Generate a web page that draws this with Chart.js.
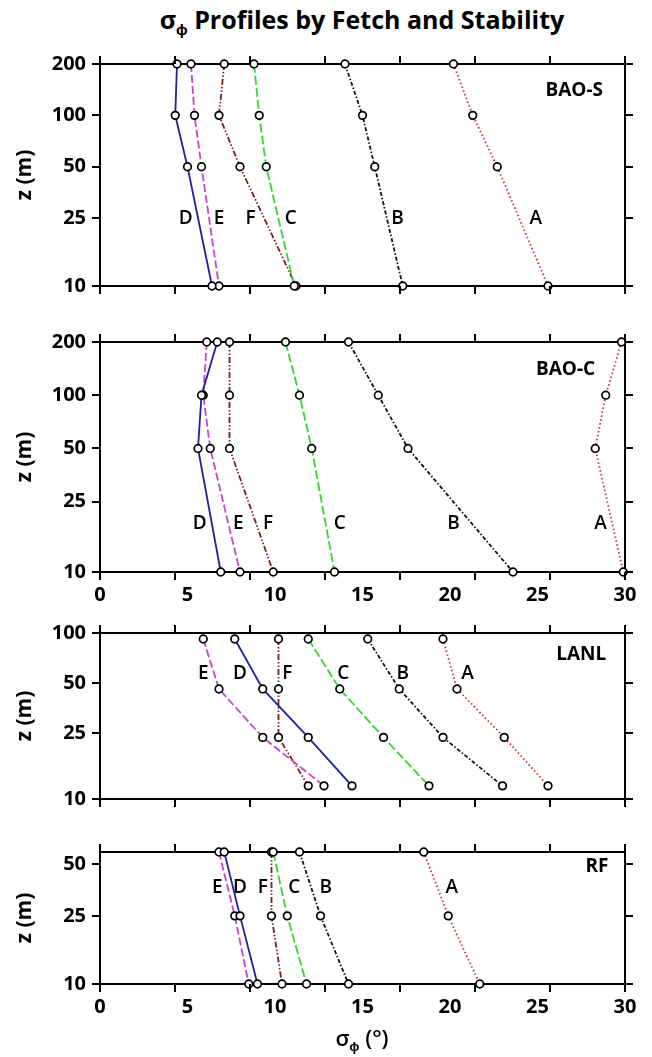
<!DOCTYPE html>
<html>
<head>
<meta charset="utf-8">
<script src="https://cdn.jsdelivr.net/npm/chart.js@4.4.0/dist/chart.umd.min.js"></script>
<style>
  body { margin: 0; background: #fff; }
  #wrap { position: relative; width: 652px; height: 1057px; font-family: 'Open Sans', sans-serif; color: #000; }
  #title { position: absolute; left: 112px; width: 500px; top: 5px; text-align: center; font-weight: bold; font-size: 25px; line-height: 28px; }
  #xtitle { position: absolute; left: 312px; width: 100px; top: 1024px; text-align: center; font-weight: 600; font-size: 22px; line-height: 26px; }
  sub { font-size: 62%; }
  canvas { position: absolute; left: 0; }
</style>
</head>
<body>
<div id="wrap">
  <div id="title">σ<sub>ϕ</sub> Profiles by Fetch and Stability</div>
  <canvas id="p1"></canvas>
  <canvas id="p2"></canvas>
  <canvas id="p3"></canvas>
  <canvas id="p4"></canvas>
  <div id="xtitle">σ<sub>ϕ</sub> (°)</div>
</div>
<script>
// stability classes, in the order of every series array below
const classes = ['A', 'B', 'C', 'D', 'E', 'F'];
const xTickLabels = [0, 5, 10, 15, 20, 25, 30];
// tick marks on the frame sit at sevenths of the 0-30 range
const xTickMarks = [0, 4.286, 8.571, 12.857, 17.143, 21.429, 25.714, 30];

// BAO-S
const baoSHeights = [200, 100, 50, 10];
const baoSA = [20.2, 21.3, 22.7, 25.6];
const baoSB = [14.0, 15.0, 15.7, 17.3];
const baoSC = [8.8, 9.1, 9.5, 11.1];
const baoSD = [4.4, 4.3, 5.0, 6.4];
const baoSE = [5.2, 5.4, 5.8, 6.8];
const baoSF = [7.1, 6.8, 8.0, 11.2];
const baoSLetterX = [24.9, 17.0, 10.9, 4.9, 6.8, 8.6];

// BAO-C
const baoCHeights = [200, 100, 50, 10];
const baoCA = [29.8, 28.9, 28.3, 29.9];
const baoCB = [14.2, 15.9, 17.6, 23.6];
const baoCC = [10.6, 11.4, 12.1, 13.4];
const baoCD = [6.7, 5.8, 5.6, 6.9];
const baoCE = [6.1, 5.9, 6.3, 8.0];
const baoCF = [7.4, 7.4, 7.4, 9.9];
const baoCLetterX = [28.6, 20.2, 13.7, 5.7, 7.9, 9.6];

// LANL
const lanlHeights = [92, 46, 23.5, 12];
const lanlA = [19.6, 20.4, 23.1, 25.6];
const lanlB = [15.3, 17.1, 19.6, 23.0];
const lanlC = [11.9, 13.7, 16.2, 18.8];
const lanlD = [7.7, 9.3, 11.9, 14.4];
const lanlE = [5.9, 6.8, 9.3, 12.8];
const lanlF = [10.2, 10.2, 10.2, 11.9];
const lanlLetterX = [21.0, 17.3, 13.9, 8.0, 5.9, 10.7];

// RF
const rfHeights = [59, 25, 10];
const rfA = [18.5, 19.9, 21.7];
const rfB = [11.4, 12.6, 14.2];
const rfC = [9.9, 10.7, 11.8];
const rfD = [7.1, 8.0, 9.0];
const rfE = [6.8, 7.7, 8.5];
const rfF = [9.8, 9.8, 10.4];
const rfLetterX = [20.1, 12.9, 11.1, 8.0, 6.7, 9.3];

const lineStyles = {
  A: { color: '#d42a2a', dash: [1.5, 2.5] },
  B: { color: '#111111', dash: [4, 2, 1.5, 2] },
  C: { color: '#33d633', dash: [9, 3] },
  D: { color: '#2020a0', dash: [] },
  E: { color: '#cc44cc', dash: [8, 3] },
  F: { color: '#7b1e1e', dash: [6, 2, 1.5, 2, 1.5, 2] }
};

Chart.defaults.font.family = "'Open Sans', sans-serif";
Chart.defaults.color = '#000';

const tickFont = { size: 20, weight: 'bold' };
const TICK_LEN = 8;

function frameGrid() {
  return { display: true, drawOnChartArea: false, drawTicks: true, tickLength: TICK_LEN, color: '#000', lineWidth: 2 };
}
function frameBorder() {
  return { display: true, color: '#000', width: 2 };
}
function setTicks(values) {
  return scale => { scale.ticks = values.map(v => ({ value: v })); };
}

// outward tick marks on all four sides, placed from each scale's own ticks
const frameTicks = {
  id: 'frameTicks',
  afterDraw(chart) {
    const { ctx, chartArea: a, scales } = chart;
    ctx.save();
    ctx.strokeStyle = '#000';
    ctx.lineWidth = 2;
    ctx.setLineDash([]);
    ctx.beginPath();
    ['x', 'xt', 'y', 'yr'].forEach(id => {
      const s = scales[id];
      s.ticks.forEach(t => {
        const p = Math.round(s.getPixelForValue(t.value));
        if (id === 'x') { ctx.moveTo(p, a.bottom); ctx.lineTo(p, a.bottom + TICK_LEN); }
        if (id === 'xt') { ctx.moveTo(p, a.top); ctx.lineTo(p, a.top - TICK_LEN); }
        if (id === 'y') { ctx.moveTo(a.left, p); ctx.lineTo(a.left - TICK_LEN, p); }
        if (id === 'yr') { ctx.moveTo(a.right, p); ctx.lineTo(a.right + TICK_LEN, p); }
      });
    });
    ctx.stroke();
    ctx.restore();
  }
};

// letters next to the curves plus the site name
function labelPlugin(letterX, letterZ, name, nameX, nameZ) {
  return {
    id: 'curveLabels',
    afterDatasetsDraw(chart) {
      const { ctx, scales: { x, y } } = chart;
      ctx.save();
      ctx.fillStyle = '#000';
      ctx.textAlign = 'center';
      ctx.textBaseline = 'middle';
      ctx.font = "600 19px 'Open Sans'";
      letterX.forEach((v, i) => {
        ctx.fillText(classes[i], x.getPixelForValue(v), y.getPixelForValue(letterZ));
      });
      ctx.font = "bold 19px 'Open Sans'";
      ctx.fillText(name, x.getPixelForValue(nameX), y.getPixelForValue(nameZ));
      ctx.restore();
    }
  };
}

function makePanel(p) {
  const topH = 12, tickH = 10, labelH = p.xLabels ? 30 : 0;
  const canvas = document.getElementById(p.id);
  canvas.width = 652;
  canvas.height = p.bottom - p.top + topH + tickH + labelH;
  canvas.style.top = (p.top - topH) + 'px';

  const datasets = classes.map((c, i) => ({
    label: c,
    data: p.heights.map((h, j) => ({ x: p.series[i][j], y: h })),
    showLine: true,
    borderColor: lineStyles[c].color,
    borderDash: lineStyles[c].dash,
    borderWidth: 1.8,
    pointRadius: 3.8,
    pointBorderColor: '#000',
    pointBackgroundColor: '#fff',
    pointBorderWidth: 1.7,
    clip: false,
    xAxisID: 'x',
    yAxisID: 'y'
  }));

  const scales = {
    x: {
      type: 'linear', position: 'bottom', min: 0, max: 30,
      afterBuildTicks: setTicks(xTickMarks),
      ticks: { display: false },
      grid: frameGrid(), border: frameBorder(),
      afterFit: s => { s.height = tickH; }
    },
    xt: {
      type: 'linear', position: 'top', min: 0, max: 30,
      afterBuildTicks: setTicks(xTickMarks),
      ticks: { display: false },
      grid: frameGrid(), border: frameBorder(),
      afterFit: s => { s.height = topH; }
    },
    y: {
      type: 'logarithmic', position: 'left', min: 10, max: p.yMax,
      afterBuildTicks: setTicks(p.yTicks),
      ticks: { callback: v => String(v), font: tickFont, padding: 6 },
      grid: frameGrid(), border: frameBorder(),
      title: { display: true, text: 'z (m)', font: { size: 21, weight: 'bold' }, padding: { top: 12, bottom: 0 } },
      afterFit: s => { s.width = 100; }
    },
    yr: {
      type: 'logarithmic', position: 'right', min: 10, max: p.yMax,
      afterBuildTicks: setTicks(p.yTicks),
      ticks: { display: false },
      grid: frameGrid(), border: frameBorder(),
      afterFit: s => { s.width = 27; }
    }
  };
  if (p.xLabels) {
    scales.xl = {
      type: 'linear', position: 'bottom', weight: 1, min: 0, max: 30,
      afterBuildTicks: setTicks(xTickLabels),
      ticks: { font: tickFont, padding: 1, maxRotation: 0, autoSkip: false },
      grid: { display: false, drawTicks: false },
      border: { display: false },
      afterFit: s => { s.height = labelH; }
    };
  }

  return new Chart(canvas, {
    type: 'scatter',
    data: { datasets },
    options: {
      responsive: false,
      devicePixelRatio: 1,
      animation: false,
      layout: { padding: 0 },
      plugins: { legend: { display: false }, tooltip: { enabled: false } },
      scales
    },
    plugins: [frameTicks, labelPlugin(p.letterX, p.letterZ, p.name, p.nameX, p.nameZ)]
  });
}

makePanel({
  id: 'p1', top: 58, bottom: 294, yMax: 200, yTicks: [10, 25, 50, 100, 200], xLabels: false,
  heights: baoSHeights, series: [baoSA, baoSB, baoSC, baoSD, baoSE, baoSF],
  letterX: baoSLetterX, letterZ: 25, name: 'BAO-S', nameX: 27.1, nameZ: 140
});
makePanel({
  id: 'p2', top: 336, bottom: 572, yMax: 200, yTicks: [10, 25, 50, 100, 200], xLabels: true,
  heights: baoCHeights, series: [baoCA, baoCB, baoCC, baoCD, baoCE, baoCF],
  letterX: baoCLetterX, letterZ: 18.8, name: 'BAO-C', nameX: 26.6, nameZ: 140
});
makePanel({
  id: 'p3', top: 627, bottom: 807, yMax: 100, yTicks: [10, 25, 50, 100], xLabels: false,
  heights: lanlHeights, series: [lanlA, lanlB, lanlC, lanlD, lanlE, lanlF],
  letterX: lanlLetterX, letterZ: 57, name: 'LANL', nameX: 27.5, nameZ: 74
});
makePanel({
  id: 'p4', top: 846, bottom: 984, yMax: 59, yTicks: [10, 25, 50], xLabels: true,
  heights: rfHeights, series: [rfA, rfB, rfC, rfD, rfE, rfF],
  letterX: rfLetterX, letterZ: 36.7, name: 'RF', nameX: 28.4, nameZ: 48.8
});
</script>
</body>
</html>
